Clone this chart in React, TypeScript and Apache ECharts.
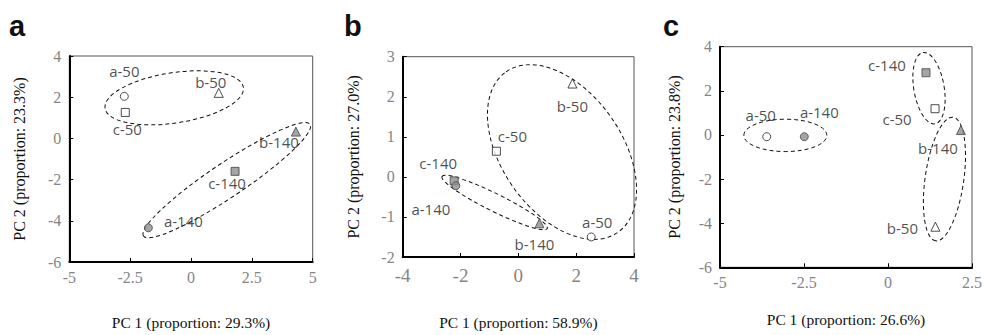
import React, { useEffect, useRef } from 'react';
import * as echarts from 'echarts';

// ---------- Data ----------
// Panel a
const A_NAMES = ['a-50', 'c-50', 'b-50', 'b-140', 'c-140', 'a-140'];
const A_PC1 = [-2.74, -2.7, 1.14, 4.31, 1.81, -1.75];
const A_PC2 = [2.04, 1.26, 2.21, 0.33, -1.6, -4.34];
// ellipse: [centerPC1, centerPC2, majorEndPC1, majorEndPC2, minor/major ratio]
const A_ELLIPSES = [
  [-0.69, 1.97, 2.15, 2.48, 0.36],
  [1.47, -2.03, 4.89, 0.68, 0.17],
];

// Panel b
const B_NAMES = ['b-50', 'c-50', 'c-140', 'a-140', 'b-140', 'a-50'];
const B_PC1 = [1.87, -0.76, -2.22, -2.16, 0.73, 2.52];
const B_PC2 = [2.33, 0.64, -0.1, -0.22, -1.16, -1.5];
const B_ELLIPSES = [
  [1.51, 0.62, 3.44, -1.385, 0.615],
  [-0.82, -0.64, 1.0, -1.29, 0.15],
];

// Panel c
const C_NAMES = ['a-50', 'a-140', 'c-140', 'c-50', 'b-140', 'b-50'];
const C_PC1 = [-3.61, -2.49, 1.13, 1.4, 2.17, 1.41];
const C_PC2 = [-0.08, -0.08, 2.82, 1.19, 0.22, -4.16];
const C_ELLIPSES = [
  [-3.055, -0.02, -1.82, -0.02, 0.39],
  [1.22, 2.12, 1.4, 0.505, 0.42],
  [1.68, -2.0, 1.94, 0.8, 0.31],
];

const PANEL_LETTERS = ['a', 'b', 'c'];
const X_TITLES = ['PC 1 (proportion: 29.3%)', 'PC 1 (proportion: 58.9%)', 'PC 1 (proportion: 26.6%)'];
const Y_TITLES = ['PC 2 (proportion: 23.3%)', 'PC 2 (proportion: 27.0%)', 'PC 2 (proportion: 23.8%)'];
const X_RANGES = [[-5, 5, 2.5], [-4, 4, 2], [-5, 2.5, 2.5]];
const Y_RANGES = [[-6, 4, 2], [-2, 3, 1], [-6, 4, 2]];

// ---------- Layout / style ----------
const GRIDS = [
  { left: 69.3, top: 56, width: 243.4, height: 212.7 },
  { left: 402.7, top: 56.7, width: 231.3, height: 210.6 },
  { left: 720, top: 46.7, width: 255.7, height: 220.6 },
];
const X_NAME_GAP = [52, 57, 44];
const Y_NAME_GAP = [42, 41, 38];
const X_LABEL_SIZE = [16, 19, 16];
const X_LABEL_MARGIN = [7, 9, 7];
const LETTER_POS = [[9, 11], [344, 11], [663, 11]];

// label offsets (px) relative to the marker centre
const LABEL_OFFSETS: Record<string, number[]>[] = [
  { 'a-50': [0, -25], 'c-50': [2, 17], 'b-50': [-8, -11], 'b-140': [-17, 10], 'c-140': [-8, 12], 'a-140': [35, -7] },
  { 'b-50': [0, 22], 'c-50': [16, -15], 'c-140': [-16, -18], 'a-140': [-25, 23], 'b-140': [-5, 21], 'a-50': [6, -15] },
  { 'a-50': [-6, -22], 'a-140': [15, -25], 'c-140': [-39, -8], 'c-50': [-38, 10], 'b-140': [-23, 18], 'b-50': [-33, 1] },
];

const SERIF = '"Liberation Serif", "Times New Roman", serif';
const SANS = '"Open Sans", "Liberation Sans", sans-serif';
const GRAY_FILL = '#8e8e8e';

function symbolFor(name: string) {
  const g = name.split('-')[0];
  if (g === 'a') return 'circle';
  if (g === 'b') return 'triangle';
  return 'rect';
}

function buildOption() {
  const names = [A_NAMES, B_NAMES, C_NAMES];
  const xs = [A_PC1, B_PC1, C_PC1];
  const ys = [A_PC2, B_PC2, C_PC2];
  const ells = [A_ELLIPSES, B_ELLIPSES, C_ELLIPSES];

  const grid: any[] = [];
  const xAxis: any[] = [];
  const yAxis: any[] = [];
  const series: any[] = [];
  const graphic: any[] = [];

  for (let p = 0; p < 3; p++) {
    grid.push({ ...GRIDS[p], show: true, borderColor: '#555', borderWidth: 1, backgroundColor: 'transparent' });
    xAxis.push({
      type: 'value', gridIndex: p,
      min: X_RANGES[p][0], max: X_RANGES[p][1], interval: X_RANGES[p][2],
      name: X_TITLES[p], nameLocation: 'middle', nameGap: X_NAME_GAP[p],
      nameTextStyle: { fontFamily: SERIF, fontSize: 15.5, color: '#111' },
      axisLine: { show: true, onZero: false, lineStyle: { color: '#000', width: 2 } },
      axisTick: { show: true, inside: true, length: 4, lineStyle: { color: '#000', width: 1 } },
      axisLabel: { fontFamily: SERIF, fontSize: X_LABEL_SIZE[p], color: '#858585', margin: X_LABEL_MARGIN[p] },
      splitLine: { show: false },
    });
    yAxis.push({
      type: 'value', gridIndex: p,
      min: Y_RANGES[p][0], max: Y_RANGES[p][1], interval: Y_RANGES[p][2],
      name: Y_TITLES[p], nameLocation: 'middle', nameGap: Y_NAME_GAP[p],
      nameTextStyle: { fontFamily: SERIF, fontSize: 16, color: '#111' },
      axisLine: { show: true, onZero: false, lineStyle: { color: '#000', width: 2 } },
      axisTick: { show: true, inside: true, length: 4, lineStyle: { color: '#000', width: 1 } },
      axisLabel: { fontFamily: SERIF, fontSize: 16, color: '#858585', margin: 8 },
      splitLine: { show: false },
    });

    series.push({
      type: 'custom', xAxisIndex: p, yAxisIndex: p, z: 1, silent: true, clip: false,
      data: ells[p],
      renderItem: (params: any, api: any) => {
        const c = api.coord([api.value(0), api.value(1)]);
        const e = api.coord([api.value(2), api.value(3)]);
        const dx = e[0] - c[0];
        const dy = e[1] - c[1];
        const rx = Math.hypot(dx, dy);
        const ry = rx * api.value(4);
        return {
          type: 'ellipse', x: c[0], y: c[1], rotation: -Math.atan2(dy, dx),
          shape: { cx: 0, cy: 0, rx, ry },
          style: { fill: 'none', stroke: '#111', lineWidth: 1, lineDash: [4, 3] },
        };
      },
    });

    series.push({
      type: 'scatter', xAxisIndex: p, yAxisIndex: p, z: 5,
      data: names[p].map((n, i) => {
        const open = n.endsWith('-50');
        const sym = symbolFor(n);
        return {
          name: n, value: [xs[p][i], ys[p][i]], symbol: sym,
          symbolSize: sym === 'triangle' ? 9 : 8,
          itemStyle: { color: open ? '#fff' : GRAY_FILL, borderColor: open ? '#222' : '#444', borderWidth: 1 },
          label: { offset: LABEL_OFFSETS[p][n] },
        };
      }),
      label: {
        show: true, position: 'inside', formatter: '{b}',
        fontFamily: SANS, fontSize: 15, color: '#1e1e1e', align: 'center', verticalAlign: 'middle',
      },
    });

    graphic.push({
      type: 'text', left: LETTER_POS[p][0], top: LETTER_POS[p][1],
      style: { text: PANEL_LETTERS[p], font: 'bold 29px "Liberation Sans", Arial, sans-serif', fill: '#111' },
    });
  }

  return { animation: false, backgroundColor: '#fff', grid, xAxis, yAxis, series, graphic };
}

export default function App() {
  const ref = useRef<HTMLDivElement>(null);
  useEffect(() => {
    const chart = echarts.init(ref.current!, null, { renderer: 'svg' });
    chart.setOption(buildOption() as any);
    return () => chart.dispose();
  }, []);
  return (
    <div
      ref={ref}
      style={{ position: 'fixed', left: 0, top: 0, width: 985, height: 335, background: '#fff' }}
    />
  );
}
